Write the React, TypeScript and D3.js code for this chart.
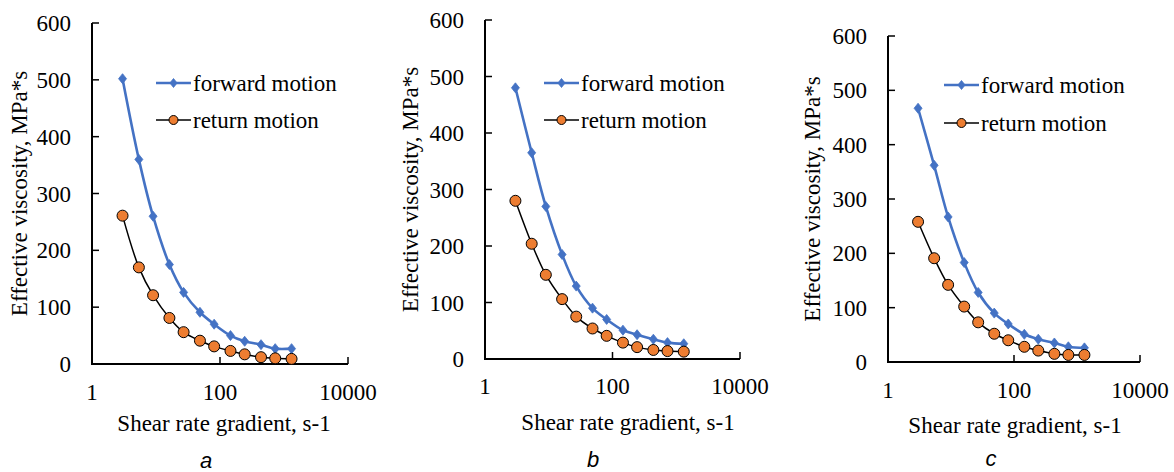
import React from "react";
import * as d3 from "d3";

const shearRates = [3, 5.4, 9, 16.2, 27, 48.6, 81, 145.8, 243, 437.4, 729, 1312];

const forwardA = [502, 360, 260, 175, 126, 91, 70, 50, 40, 34, 27, 27];
const returnA = [261, 170, 121, 81, 56, 41, 31, 23, 17, 12, 10, 9];
const forwardB = [480, 365, 270, 185, 129, 90, 70, 51, 43, 35, 29, 27];
const returnB = [280, 204, 149, 106, 75, 54, 41, 29, 21, 16, 14, 13];
const forwardC = [467, 362, 267, 183, 128, 90, 70, 51, 42, 35, 28, 26];
const returnC = [258, 191, 142, 102, 73, 52, 40, 28, 21, 15, 13, 13];

const xTicks = [1, 100, 10000];
const yTicks = [0, 100, 200, 300, 400, 500, 600];
const seriesNames = ["forward motion", "return motion"];
const panelLabels = ["a", "b", "c"];
const xTitle = "Shear rate gradient, s-1";
const yTitle = "Effective viscosity, MPa*s";

const BLUE = "#4472C4";
const ORANGE = "#ED7D31";
const serifStyle: React.CSSProperties = { fontFamily: '"Liberation Serif", "DejaVu Serif", serif', fontSize: "23px" };
const labelStyle: React.CSSProperties = { fontFamily: '"Liberation Sans", Arial, sans-serif', fontSize: "22px", fontStyle: "italic" };

type Layout = {
  left: number; right: number; top: number; bottom: number;
  yTitleX: number; xTitleX: number; xTitleY: number; xTickY: number;
  labelX: number; labelY: number; legX: number; legY1: number; legY2: number;
};

const layouts: Layout[] = [
  { left: 92, right: 348, top: 23, bottom: 364, yTitleX: 27, xTitleX: 224, xTitleY: 431, xTickY: 400, labelX: 206, labelY: 468, legX: 156, legY1: 83, legY2: 120 },
  { left: 485, right: 740, top: 20, bottom: 359, yTitleX: 418, xTitleX: 628, xTitleY: 430, xTickY: 394, labelX: 593, labelY: 467, legX: 544, legY1: 83, legY2: 120 },
  { left: 888, right: 1140, top: 36, bottom: 362, yTitleX: 820, xTitleX: 1015, xTitleY: 433, xTickY: 398, labelX: 991, labelY: 466, legX: 944, legY1: 85, legY2: 123 },
];

const panelData = [
  [forwardA, returnA],
  [forwardB, returnB],
  [forwardC, returnC],
];

function Diamond({ x, y, s }: { x: number; y: number; s: number }) {
  return (
    <path
      d={`M${x},${y - s}L${x + s * 0.8},${y}L${x},${y + s}L${x - s * 0.8},${y}Z`}
      fill={BLUE}
      stroke={BLUE}
      strokeWidth={0.8}
    />
  );
}

function Panel({ L, fwd, ret, label }: { L: Layout; fwd: number[]; ret: number[]; label: string }) {
  const x = d3.scaleLog().domain([1, 10000]).range([L.left, L.right]);
  const y = d3.scaleLinear().domain([0, 600]).range([L.bottom, L.top]);
  const line = d3
    .line<number>()
    .x((_, i) => x(shearRates[i]))
    .y((d) => y(d))
    .curve(d3.curveCatmullRom.alpha(0.5));
  const cy = (L.top + L.bottom) / 2;
  return (
    <g>
      <line x1={L.left} x2={L.left} y1={L.top} y2={L.bottom + 1} stroke="#000" strokeWidth={2} />
      <line x1={L.left - 1} x2={L.right} y1={L.bottom} y2={L.bottom} stroke="#000" strokeWidth={2} />
      {yTicks.map((t) => (
        <g key={"y" + t}>
          <line x1={L.left} x2={L.left + 7} y1={y(t)} y2={y(t)} stroke="#000" strokeWidth={1.5} />
          <text x={L.left - 21} y={y(t)} dy="0.35em" textAnchor="end" style={serifStyle} fill="#000">
            {t}
          </text>
        </g>
      ))}
      {xTicks.map((t) => (
        <g key={"x" + t}>
          <line x1={x(t)} x2={x(t)} y1={L.bottom} y2={L.bottom - 7} stroke="#000" strokeWidth={1.5} />
          <text x={x(t)} y={L.xTickY} textAnchor="middle" style={serifStyle} fill="#000">
            {t}
          </text>
        </g>
      ))}
      <text x={L.xTitleX} y={L.xTitleY} textAnchor="middle" style={serifStyle} fill="#000">
        {xTitle}
      </text>
      <text
        transform={`translate(${L.yTitleX},${cy}) rotate(-90)`}
        textAnchor="middle"
        style={serifStyle}
        fill="#000"
      >
        {yTitle}
      </text>
      <text x={L.labelX} y={L.labelY} textAnchor="middle" style={labelStyle} fill="#000">
        {label}
      </text>

      <path d={line(ret) || ""} fill="none" stroke="#000" strokeWidth={1.5} />
      <path d={line(fwd) || ""} fill="none" stroke={BLUE} strokeWidth={2.6} />
      {fwd.map((v, i) => (
        <Diamond key={"f" + i} x={x(shearRates[i])} y={y(v)} s={5} />
      ))}
      {ret.map((v, i) => (
        <circle key={"r" + i} cx={x(shearRates[i])} cy={y(v)} r={5.5} fill={ORANGE} stroke="#000" strokeWidth={1} />
      ))}

      <line x1={L.legX} x2={L.legX + 35} y1={L.legY1} y2={L.legY1} stroke={BLUE} strokeWidth={2.6} />
      <Diamond x={L.legX + 17.5} y={L.legY1} s={4.5} />
      <text x={L.legX + 37} y={L.legY1} dy="0.33em" style={serifStyle} fill="#000">
        {seriesNames[0]}
      </text>
      <line x1={L.legX} x2={L.legX + 35} y1={L.legY2} y2={L.legY2} stroke="#000" strokeWidth={1.5} />
      <circle cx={L.legX + 17.5} cy={L.legY2} r={4.5} fill={ORANGE} stroke="#000" strokeWidth={1} />
      <text x={L.legX + 37} y={L.legY2} dy="0.33em" style={serifStyle} fill="#000">
        {seriesNames[1]}
      </text>
    </g>
  );
}

export default function App() {
  return (
    <svg width={1174} height={472} style={{ position: "absolute", left: 0, top: 0, background: "#fff" }}>
      <rect x={0} y={0} width={1174} height={472} fill="#fff" />
      {layouts.map((L, i) => (
        <Panel key={i} L={L} fwd={panelData[i][0]} ret={panelData[i][1]} label={panelLabels[i]} />
      ))}
    </svg>
  );
}
